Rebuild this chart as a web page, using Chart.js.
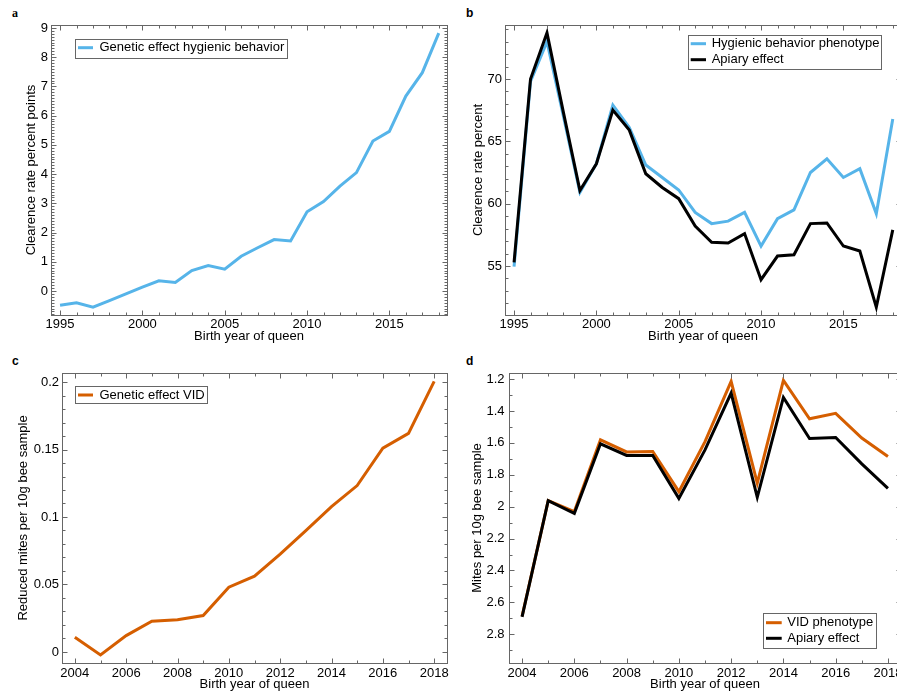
<!DOCTYPE html>
<html>
<head>
<meta charset="utf-8">
<script src="https://cdn.jsdelivr.net/npm/chart.js@4.4.1/dist/chart.umd.min.js"></script>
<style>
  html, body { margin: 0; padding: 0; background: #fff; }
  body { position: relative; width: 897px; height: 693px; overflow: hidden; }
  .panel { position: absolute; }
  .tag { position: absolute; font: bold 12px "Liberation Sans", Arial, sans-serif; line-height: 12px; color: #000; }
  .tag.serif { font-family: "Liberation Serif", "Times New Roman", serif; font-size: 12px; }
</style>
</head>
<body>
<div class="tag serif" style="left:12px;top:7px">a</div>
<div class="tag" style="left:466px;top:7px">b</div>
<div class="tag" style="left:12px;top:355px">c</div>
<div class="tag" style="left:466px;top:355px">d</div>

<div class="panel" style="left:0;top:0"><canvas id="chartA" width="455" height="345"></canvas></div>
<div class="panel" style="left:449px;top:0"><canvas id="chartB" width="480" height="345"></canvas></div>
<div class="panel" style="left:0;top:340px"><canvas id="chartC" width="455" height="353"></canvas></div>
<div class="panel" style="left:449px;top:340px"><canvas id="chartD" width="480" height="353"></canvas></div>

<script>
// birth years of queens
const yearsHyg = [1995, 1996, 1997, 1998, 1999, 2000, 2001, 2002, 2003, 2004, 2005, 2006,
  2007, 2008, 2009, 2010, 2011, 2012, 2013, 2014, 2015, 2016, 2017, 2018];
const yearsVid = [2004, 2005, 2006, 2007, 2008, 2009, 2010, 2011, 2012, 2013, 2014, 2015, 2016, 2017, 2018];

// a) genetic effect hygienic behavior (percent points)
const hygGenetic = [-0.49, -0.40, -0.55, -0.33, -0.10, 0.13, 0.35, 0.29, 0.70, 0.87, 0.75, 1.19,
  1.48, 1.76, 1.71, 2.71, 3.06, 3.59, 4.05, 5.13, 5.46, 6.67, 7.47, 8.82];
// b) phenotype and apiary effect (percent)
const hygPheno = [54.95, 69.8, 73.0, 67.0, 60.9, 63.2, 67.9, 66.1, 63.1, 62.1, 61.1, 59.3,
  58.4, 58.6, 59.3, 56.6, 58.8, 59.5, 62.5, 63.6, 62.1, 62.8, 59.2, 66.8];
const hygApiary = [55.3, 70.0, 73.7, 67.3, 61.05, 63.2, 67.5, 65.9, 62.4, 61.3, 60.4, 58.2,
  56.9, 56.85, 57.6, 53.9, 55.8, 55.9, 58.4, 58.45, 56.6, 56.2, 51.7, 57.9];
// c) genetic effect VID (reduced mites per 10g)
const vidGenetic = [0.0109, -0.0022, 0.0121, 0.0228, 0.0238, 0.027, 0.048, 0.0562, 0.0725,
  0.0899, 0.1077, 0.1233, 0.151, 0.162, 0.2005];
// d) VID phenotype and apiary effect (mites per 10g)
const vidPheno = [2.687, 1.962, 2.031, 1.581, 1.657, 1.654, 1.906, 1.592, 1.215, 1.853, 1.208,
  1.449, 1.415, 1.570, 1.686];
const vidApiary = [2.691, 1.962, 2.042, 1.606, 1.679, 1.679, 1.948, 1.644, 1.288, 1.941, 1.315,
  1.573, 1.566, 1.732, 1.885];

const BLUE = '#56B4E9', ORANGE = '#D55E00', BLACK = '#000000', AXIS = '#666666';
const xTitle = 'Birth year of queen';

Chart.defaults.font.family = '"Liberation Sans", Arial, Helvetica, sans-serif';
Chart.defaults.font.size = 13;
Chart.defaults.color = '#000';

const pts = (xs, ys) => xs.map((x, i) => ({ x, y: ys[i] }));
const round = (v, d) => String(Math.round(v * d) / d);

// box + inward major/minor ticks on all four sides
const framePlugin = {
  id: 'frame',
  afterDraw(chart, args, o) {
    const { ctx, chartArea: a, scales: { x, y } } = chart;
    const L = Math.round(a.left) + 0.5, R = Math.round(a.right) + 0.5;
    const T = Math.round(a.top) + 0.5, B = Math.round(a.bottom) + 0.5;
    const marks = (scale, step) => {
      const major = scale.ticks.map(t => t.value);
      const lo = Math.min(scale.min, scale.max), hi = Math.max(scale.min, scale.max);
      const out = [];
      for (let k = Math.ceil(lo / step - 1e-9); k * step <= hi + 1e-9; k++) {
        const v = k * step;
        const isMajor = major.some(m => Math.abs(m - v) < step / 2);
        out.push([Math.round(scale.getPixelForValue(v)) + 0.5, isMajor ? 5 : 3]);
      }
      return out;
    };
    ctx.save();
    ctx.strokeStyle = AXIS;
    ctx.lineWidth = 1;
    ctx.strokeRect(L, T, R - L, B - T);
    ctx.beginPath();
    for (const [p, len] of marks(x, o.xMinor)) {
      ctx.moveTo(p, B); ctx.lineTo(p, B - len);
      ctx.moveTo(p, T); ctx.lineTo(p, T + len);
    }
    for (const [p, len] of marks(y, o.yMinor)) {
      ctx.moveTo(L, p); ctx.lineTo(L + len, p);
      ctx.moveTo(R, p); ctx.lineTo(R - len, p);
    }
    ctx.stroke();
    ctx.restore();
  }
};

// legend drawn as a framed box inside the plot
const boxLegend = {
  id: 'boxLegend',
  afterDraw(chart, args, o) {
    const { ctx } = chart;
    const [x1, y1, x2, y2] = o.box;
    ctx.save();
    ctx.fillStyle = '#fff';
    ctx.fillRect(x1, y1, x2 - x1, y2 - y1);
    ctx.strokeStyle = AXIS;
    ctx.lineWidth = 1;
    ctx.strokeRect(Math.round(x1) + 0.5, Math.round(y1) + 0.5, Math.round(x2 - x1), Math.round(y2 - y1));
    ctx.font = '13px "Liberation Sans", Arial, sans-serif';
    ctx.textBaseline = 'middle';
    ctx.textAlign = 'left';
    chart.data.datasets.forEach((ds, i) => {
      const ry = o.rows[i];
      ctx.strokeStyle = ds.borderColor;
      ctx.lineWidth = 3;
      ctx.beginPath();
      ctx.moveTo(o.line[0], ry); ctx.lineTo(o.line[1], ry);
      ctx.stroke();
      ctx.fillStyle = '#000';
      ctx.fillText(ds.label, o.textX, ry);
    });
    ctx.restore();
  }
};

Chart.register(framePlugin, boxLegend);

const line = (label, xs, ys, color, order) => ({
  label, data: pts(xs, ys), borderColor: color, backgroundColor: color,
  borderWidth: 3, pointRadius: 0, tension: 0, order, fill: false
});

function panel(id, cfg) {
  return new Chart(document.getElementById(id), {
    type: 'line',
    data: { datasets: cfg.datasets },
    options: {
      responsive: false,
      animation: false,
      layout: { padding: cfg.padding },
      plugins: {
        legend: { display: false },
        tooltip: { enabled: false },
        frame: { xMinor: 1, yMinor: cfg.yMinor },
        boxLegend: cfg.legend
      },
      scales: {
        x: {
          type: 'linear', min: cfg.xMin, max: cfg.xMax,
          grid: { display: false, drawTicks: false }, border: { display: false },
          ticks: { stepSize: cfg.xStep, includeBounds: false, maxRotation: 0, padding: cfg.xPad,
            maxTicksLimit: 100, callback: v => String(v) },
          title: { display: true, text: xTitle, padding: { top: 0, bottom: 1 } },
          afterFit: s => { s.height = cfg.xHeight; }
        },
        y: {
          type: 'linear', min: cfg.yMin, max: cfg.yMax, reverse: !!cfg.reverse,
          grid: { display: false, drawTicks: false }, border: { display: false },
          ticks: { stepSize: cfg.yStep, includeBounds: false, padding: cfg.yPad,
            maxTicksLimit: 100, callback: v => round(v, 1000) },
          title: { display: true, text: cfg.yTitle, padding: { top: cfg.yTitlePad, bottom: 0 } },
          afterFit: s => { s.width = cfg.yWidth; }
        }
      }
    }
  });
}

document.addEventListener('DOMContentLoaded', () => {
  panel('chartA', {
    datasets: [line('Genetic effect hygienic behavior', yearsHyg, hygGenetic, BLUE, 0)],
    padding: { left: 0, top: 25, right: 8, bottom: 0 },
    xMin: 1994.45, xMax: 2018.5, xStep: 5, xPad: 2, xHeight: 30,
    yMin: -0.82, yMax: 9.1, yStep: 1, yMinor: 0.1, yPad: 3, yWidth: 51,
    yTitle: 'Clearence rate percent points', yTitlePad: 24,
    legend: { box: [74.5, 38.5, 286.5, 57.5], rows: [47.7], line: [78, 93], textX: 99.5 }
  });

  panel('chartB', {
    datasets: [
      line('Hygienic behavior phenotype', yearsHyg, hygPheno, BLUE, 1),
      line('Apiary effect', yearsHyg, hygApiary, BLACK, 0)
    ],
    padding: { left: 0, top: 25, right: 28, bottom: 0 },
    xMin: 1994.45, xMax: 2018.5, xStep: 5, xPad: 2, xHeight: 30,
    yMin: 51.07, yMax: 74.33, yStep: 5, yMinor: 1, yPad: 3, yWidth: 56,
    yTitle: 'Clearence rate percent', yTitlePad: 21.5,
    legend: { box: [238.5, 35, 431.5, 69.3], rows: [43.7, 59.7], line: [241.7, 257], textX: 262.7 }
  });

  panel('chartC', {
    datasets: [line('Genetic effect VID', yearsVid, vidGenetic, ORANGE, 0)],
    padding: { left: 0, top: 33, right: 8, bottom: 0 },
    xMin: 2003.5, xMax: 2018.5, xStep: 2, xPad: 3, xHeight: 30,
    yMin: -0.0082, yMax: 0.2067, yStep: 0.05, yMinor: 0.01, yPad: 3, yWidth: 62,
    yTitle: 'Reduced mites per 10g bee sample', yTitlePad: 15.5,
    legend: { box: [74.5, 46, 206.5, 63], rows: [55], line: [78, 93], textX: 99.5 }
  });

  panel('chartD', {
    datasets: [
      line('VID phenotype', yearsVid, vidPheno, ORANGE, 1),
      line('Apiary effect', yearsVid, vidApiary, BLACK, 0)
    ],
    padding: { left: 0, top: 33, right: 28, bottom: 0 },
    xMin: 2003.5, xMax: 2018.5, xStep: 2, xPad: 3, xHeight: 30,
    yMin: 1.162, yMax: 2.98, reverse: true, yStep: 0.2, yMinor: 0.1, yPad: 4.5, yWidth: 60,
    yTitle: 'Mites per 10g bee sample', yTitlePad: 21,
    legend: { box: [313.5, 273.3, 426.5, 308.3], rows: [282.7, 298.3], line: [317, 332.7], textX: 338.3 }
  });
});
</script>
</body>
</html>
